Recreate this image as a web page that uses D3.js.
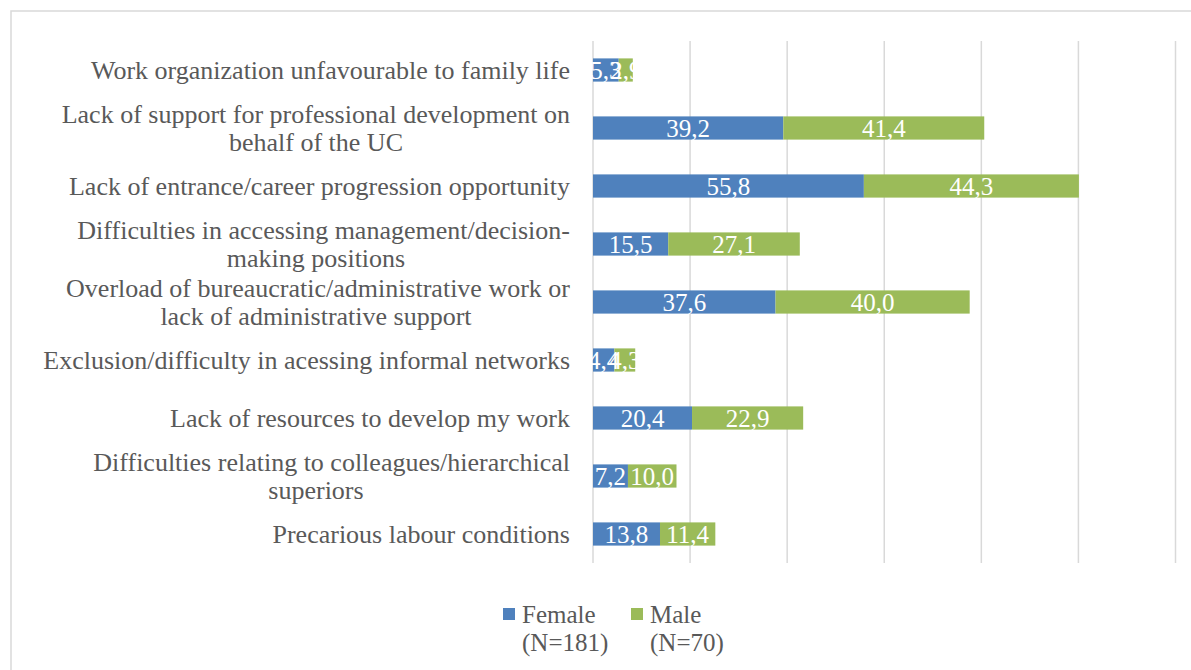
<!DOCTYPE html>
<html>
<head>
<meta charset="utf-8">
<script src="https://cdn.jsdelivr.net/npm/d3@7"></script>
<style>
  html, body { margin: 0; padding: 0; background: #fff; }
  svg { display: block; }
  text { font-family: "Liberation Serif", "Times New Roman", serif; }
</style>
</head>
<body>
<svg id="chart" width="1191" height="670"></svg>
<script>
// Obstacles reported, by sex (%)
const categories = [
  ["Work organization unfavourable to family life"],
  ["Lack of support for professional development on", "behalf of the UC"],
  ["Lack of entrance/career progression opportunity"],
  ["Difficulties in accessing management/decision-", "making positions"],
  ["Overload of bureaucratic/administrative work or", "lack of administrative support"],
  ["Exclusion/difficulty in acessing informal networks"],
  ["Lack of resources to develop my work"],
  ["Difficulties relating to colleagues/hierarchical", "superiors"],
  ["Precarious labour conditions"]
];
const female = [5.3, 39.2, 55.8, 15.5, 37.6, 4.4, 20.4, 7.2, 13.8];
const male   = [2.9, 41.4, 44.3, 27.1, 40.0, 4.3, 22.9, 10.0, 11.4];
const seriesNames = [["Female", "(N=181)"], ["Male", "(N=70)"]];
const seriesColors = ["#4F81BD", "#9BBB59"];
const xTicks = [0, 20, 40, 60, 80, 100, 120];

const svg = d3.select("#chart");
const labelColor = "#595959";
const fontSize = 25;
const catFontSize = 26;

// chart frame
svg.append("rect")
  .attr("x", 11).attr("y", 11)
  .attr("width", 1200).attr("height", 700)
  .attr("fill", "none")
  .attr("stroke", "#D9D9D9")
  .attr("stroke-width", 1.5);

const plot = { left: 593, right: 1175.5, top: 41, bottom: 563 };

const x = d3.scaleLinear().domain([0, 120]).range([plot.left, plot.right]);
const keys = categories.map((c, i) => i);
const y = d3.scaleBand().domain(keys).range([plot.top, plot.bottom])
  .paddingInner(0.6).paddingOuter(0.3);

// vertical gridlines
svg.append("g").selectAll("line").data(xTicks).join("line")
  .attr("x1", d => x(d)).attr("x2", d => x(d))
  .attr("y1", plot.top).attr("y2", plot.bottom)
  .attr("stroke", "#D9D9D9")
  .attr("stroke-width", 1.5);

// stacked data
const rows = keys.map(i => ({ key: i, Female: female[i], Male: male[i] }));
const stack = d3.stack().keys(["Female", "Male"])(rows);

const locale = d3.formatLocale({ decimal: ",", thousands: ".", grouping: [3], currency: ["", ""] });
const fmt = locale.format(".1f");

const layers = svg.append("g").selectAll("g").data(stack).join("g")
  .attr("fill", (d, i) => seriesColors[i]);

layers.selectAll("rect").data(d => d).join("rect")
  .attr("x", d => x(d[0]))
  .attr("width", d => x(d[1]) - x(d[0]))
  .attr("y", d => y(d.data.key))
  .attr("height", y.bandwidth());

// value labels inside segments
const valueLabels = svg.append("g");
stack.forEach(layer => {
  valueLabels.selectAll(null).data(layer).join("text")
    .attr("x", d => (x(d[0]) + x(d[1])) / 2)
    .attr("y", d => y(d.data.key) + y.bandwidth() / 2)
    .attr("dy", "0.35em")
    .attr("text-anchor", "middle")
    .attr("fill", "#fff")
    .attr("font-size", fontSize)
    .text(d => fmt(d[1] - d[0]));
});

// category labels (wrapped labels: first line right-aligned, continuation centred)
const labelRight = 570, labelCentre = 316, lineGap = 28;
const catG = svg.append("g").attr("fill", labelColor).attr("font-size", catFontSize);
categories.forEach((lines, i) => {
  const cy = y(i) + y.bandwidth() / 2;
  const n = lines.length;
  lines.forEach((line, j) => {
    const ly = cy + (j - (n - 1) / 2) * lineGap;
    catG.append("text")
      .attr("x", n > 1 && j > 0 ? labelCentre : labelRight)
      .attr("y", ly)
      .attr("dy", "0.35em")
      .attr("text-anchor", n > 1 && j > 0 ? "middle" : "end")
      .text(line);
  });
});

// legend
const legendX = [503, 631];
const legend = svg.append("g");
seriesNames.forEach((name, i) => {
  legend.append("rect")
    .attr("x", legendX[i]).attr("y", 608)
    .attr("width", 12).attr("height", 12)
    .attr("fill", seriesColors[i]);
  name.forEach((line, j) => {
    legend.append("text")
      .attr("x", legendX[i] + 19)
      .attr("y", 614 + j * 28)
      .attr("dy", "0.35em")
      .attr("fill", labelColor)
      .attr("font-size", fontSize)
      .text(line);
  });
});
</script>
</body>
</html>
